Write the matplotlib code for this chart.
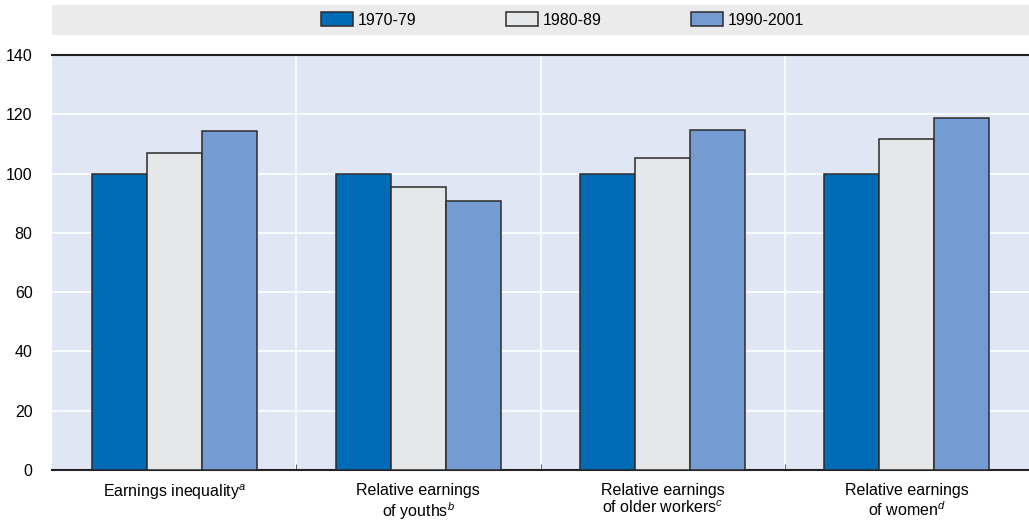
import numpy as np
import matplotlib.pyplot as plt
from matplotlib.patches import Rectangle

plt.rcParams['font.family'] = ['Liberation Sans Narrow', 'Liberation Sans', 'DejaVu Sans']
plt.rcParams['mathtext.fontset'] = 'custom'
plt.rcParams['mathtext.rm'] = 'Liberation Sans'
plt.rcParams['mathtext.it'] = 'Liberation Sans:italic'

# data
categories = ["Earnings inequality$^{a}$",
              "Relative earnings\nof youths$^{b}$",
              "Relative earnings\nof older workers$^{c}$",
              "Relative earnings\nof women$^{d}$"]
periods = ["1970-79", "1980-89", "1990-2001"]
v1970 = [100, 100, 100, 100]
v1980 = [106.9, 95.6, 105.2, 111.5]
v1990 = [114.4, 90.7, 114.6, 118.9]
yticks = [0, 20, 40, 60, 80, 100, 120, 140]

colors = ["#006bb6", "#e6e7e8", "#759cd2"]

fig = plt.figure(figsize=(10.29, 5.21), dpi=100)
ax = fig.add_axes([52 / 1029, 1 - 470 / 521, 977 / 1029, 415 / 521])
ax.set_facecolor("#e0e6f4")

x = np.arange(len(categories))
w = 0.225
bars = []
for i, vals in enumerate([v1970, v1980, v1990]):
    b = ax.bar(x + (i - 1) * w, vals, w, color=colors[i], edgecolor="#2b2b2b",
               linewidth=1.1, label=periods[i], zorder=3)
    bars.append(b)

ax.set_xlim(-0.5, len(categories) - 0.5)
ax.set_ylim(0, 140)
ax.set_yticks(yticks)
ax.set_yticklabels([str(t) for t in yticks], fontsize=11.5)
ax.set_xticks(x)
ax.set_xticklabels(categories, fontsize=11.5, linespacing=1.15)
ax.set_xticks(x[:-1] + 0.5, minor=True)
ax.tick_params(axis='x', which='major', length=0, pad=9)
ax.tick_params(axis='x', which='minor', length=4, direction='in', color='#444444')
ax.tick_params(axis='y', length=0, pad=14)

ax.grid(axis='y', color='white', linewidth=1.2, zorder=1)
for xb in x[:-1] + 0.5:
    ax.axvline(xb, color='white', linewidth=1.2, zorder=1)

for s in ['left', 'right']:
    ax.spines[s].set_visible(False)
for s in ['top', 'bottom']:
    ax.spines[s].set_linewidth(1.5)
    ax.spines[s].set_color('#222222')

# legend band
fig.patches.append(Rectangle((52 / 1029, 1 - 35 / 521), 977 / 1029, 30 / 521,
                             transform=fig.transFigure, facecolor="#ebebeb",
                             edgecolor='none', zorder=0))
fig.legend(handles=bars, labels=periods, loc='center left',
           bbox_to_anchor=(313 / 1029, 1 - 20 / 521), ncol=3, frameon=False,
           fontsize=11.5, handlelength=2.0, handleheight=1.0, borderpad=0,
           columnspacing=5.6, handletextpad=0.3)

fig.savefig("out.png", dpi=100)
